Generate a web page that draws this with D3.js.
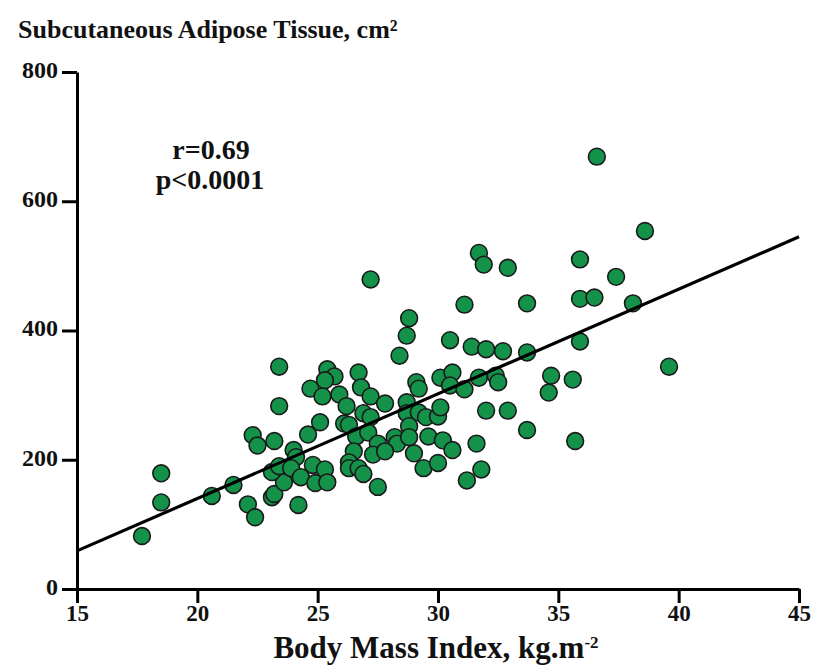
<!DOCTYPE html>
<meta charset="utf-8">
<style>
  body {
    margin: 0;
    background: #fff;
  }

  svg text {
    font-family: "Liberation Serif", "Times New Roman", serif;
    font-weight: bold;
    fill: #111;
  }

  .axis path,
  .axis line {
    stroke: #000;
    stroke-width: 3;
  }

  .dot {
    fill: #14924a;
    stroke: #1a1a1a;
    stroke-width: 1.6;
  }
</style>

<body>
  <div id="chart"></div>

  <script src="https://d3js.org/d3.v7.min.js"></script>
  <script>
    // body mass index (kg.m-2) and subcutaneous adipose tissue (cm2)
    var bmi = [
      17.7, 18.5, 18.5, 20.6, 21.5, 22.1, 22.4, 22.3, 22.5, 23.2,
      23.4, 23.4, 23.1, 23.2, 23.6, 23.1, 23.4, 24.0, 24.1, 23.9,
      24.2, 24.3, 24.6, 24.7, 24.8, 24.9, 25.1, 25.4, 25.7, 25.3,
      25.2, 25.9, 26.2, 26.1, 26.3, 25.3, 25.4, 27.2, 28.8, 28.7,
      28.4, 26.7, 26.8, 27.2, 27.8, 29.1, 29.2, 28.7, 30.1, 30.6,
      30.5, 31.1, 26.9, 27.2, 28.7, 29.2, 29.5, 30.0, 30.1, 28.8,
      26.6, 27.1, 27.5, 28.2, 28.3, 28.8, 29.6, 30.2, 31.6, 26.5,
      27.3, 27.8, 29.0, 30.6, 26.3, 26.3, 26.7, 26.9, 29.4, 30.0,
      27.5, 31.2, 31.8, 36.6, 38.6, 31.7, 31.9, 32.9, 35.9, 37.4,
      31.1, 33.7, 35.9, 36.5, 38.1, 30.5, 31.4, 32.0, 32.7, 33.7,
      35.9, 39.6, 31.7, 32.4, 32.5, 34.7, 35.6, 34.6, 32.0, 32.9,
      33.7, 35.7
    ];
    var sat = [
      82, 179, 134, 144, 161, 131, 111, 238, 222, 229,
      344, 283, 142, 147, 165, 181, 190, 215, 204, 187,
      130, 173, 239, 310, 192, 164, 258, 340, 329, 323,
      298, 301, 283, 256, 254, 185, 165, 479, 419, 392,
      361, 335, 312, 298, 287, 320, 310, 289, 327, 335,
      315, 309, 272, 266, 272, 273, 266, 267, 281, 252,
      236, 242, 225, 235, 225, 235, 236, 230, 225, 213,
      208, 213, 210, 215, 196, 187, 187, 178, 187, 195,
      158, 168, 185, 669, 554, 520, 502, 497, 510, 483,
      440, 442, 449, 451, 442, 385, 375, 371, 368, 366,
      383, 344, 327, 330, 320, 330, 324, 304, 276, 276,
      246, 229
    ];

    // regression line end points
    var fitX = [15, 45];
    var fitY = [59, 545];

    var xTicks = [15, 20, 25, 30, 35, 40, 45];
    var yTicks = [0, 200, 400, 600, 800];

    var width = 818,
      height = 665;

    var margin = {
      top: 72,
      right: 19,
      bottom: 76,
      left: 77
    };

    var x = d3.scaleLinear()
      .domain([15, 45])
      .range([margin.left, width - margin.right]);

    var y = d3.scaleLinear()
      .domain([0, 800])
      .range([height - margin.bottom, margin.top]);

    var svg = d3.select("#chart")
      .append("svg")
      .attr("width", width)
      .attr("height", height);

    // title
    svg.append("text")
      .attr("x", 18)
      .attr("y", 38)
      .style("font-size", "26px")
      .text("Subcutaneous Adipose Tissue, cm²");

    // y axis
    svg.append("g")
      .attr("class", "y axis")
      .attr("transform", "translate(" + margin.left + ",0)")
      .call(d3.axisLeft(y)
        .tickValues(yTicks)
        .tickSize(15)
        .tickSizeOuter(0)
        .tickPadding(4))
      .selectAll("text")
      .style("font-size", "24px")
      .attr("dy", "0.22em");

    // x axis
    svg.append("g")
      .attr("class", "x axis")
      .attr("transform", "translate(0," + y(0) + ")")
      .call(d3.axisBottom(x)
        .tickValues(xTicks)
        .tickSize(14)
        .tickSizeOuter(0)
        .tickPadding(2))
      .selectAll("text")
      .style("font-size", "23px");

    svg.selectAll(".axis text").style("fill", "#111");

    // x axis title
    var xt = svg.append("text")
      .attr("x", 436)
      .attr("y", 658)
      .attr("text-anchor", "middle")
      .style("font-size", "31px")
      .text("Body Mass Index, kg.m");
    xt.append("tspan")
      .attr("dy", "-0.6em")
      .style("font-size", "17px")
      .text("-2");

    // statistics
    svg.append("text")
      .attr("x", 211)
      .attr("y", 159)
      .attr("text-anchor", "middle")
      .style("font-size", "28px")
      .text("r=0.69");

    svg.append("text")
      .attr("x", 210)
      .attr("y", 189)
      .attr("text-anchor", "middle")
      .style("font-size", "28px")
      .text("p<0.0001");

    var points = bmi.map(function(d, i) {
      return {
        bmi: d,
        sat: sat[i]
      };
    });

    svg.append("g")
      .selectAll(".dot")
      .data(points)
      .enter()
      .append("circle")
      .attr("class", "dot")
      .attr("cx", function(d) {
        return x(d.bmi);
      })
      .attr("cy", function(d) {
        return y(d.sat);
      })
      .attr("r", 8.4);

    // regression line drawn over the dots
    svg.append("line")
      .attr("x1", x(fitX[0]))
      .attr("y1", y(fitY[0]))
      .attr("x2", x(fitX[1]))
      .attr("y2", y(fitY[1]))
      .attr("stroke", "#000")
      .attr("stroke-width", 3.2);
  </script>
</body>
